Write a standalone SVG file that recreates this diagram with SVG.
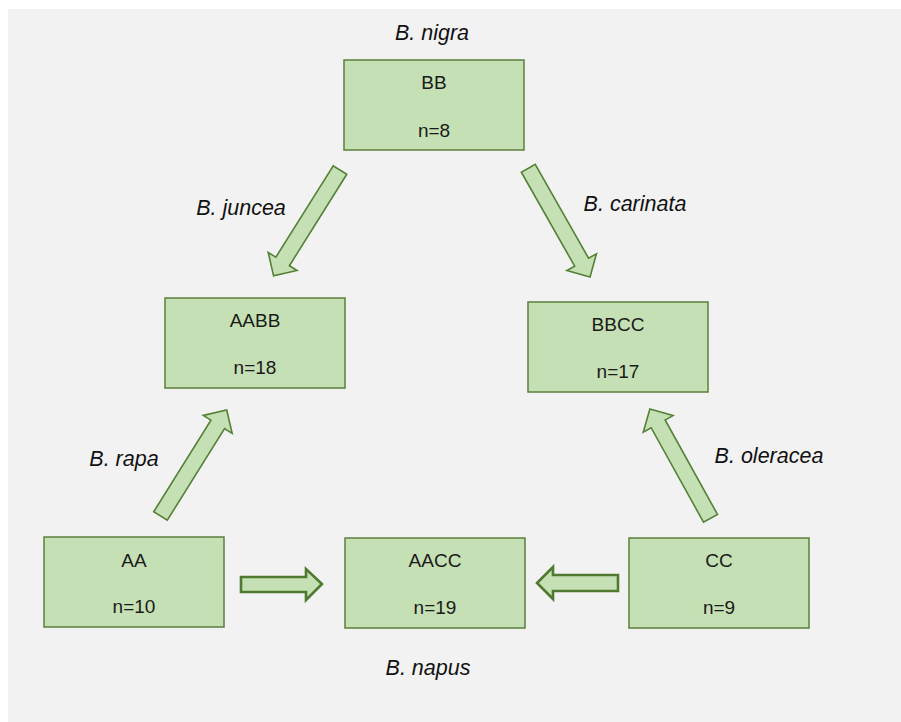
<svg xmlns="http://www.w3.org/2000/svg" width="901" height="722" viewBox="0 0 901 722">
<style>
.box{fill:#c5e0b4;stroke:#5b7f3c;stroke-width:1.5}
.t{font-family:"Liberation Sans",Arial,sans-serif;font-size:19px;fill:#1a1a1a;text-anchor:middle}
.lbl{font-family:"Liberation Sans",Arial,sans-serif;font-size:21.5px;font-style:italic;fill:#111;text-anchor:middle}
.arr{fill:#c5e0b4;stroke:#538135;stroke-width:1.6;stroke-linejoin:miter}
.arrh{fill:#c5e0b4;stroke:#4f7a30;stroke-width:2.6;stroke-linejoin:miter}
</style>
<defs>
<path id="diag" d="M0,-8 L108,-8 L108,-17 L125,0 L108,17 L108,8 L0,8 Z"/>
</defs>
<rect x="0" y="0" width="901" height="722" fill="#ffffff"/>
<rect x="8" y="9" width="893" height="713" fill="#f2f2f2"/>
<g id="connectors">
<use href="#diag" class="arr" transform="translate(340,170) rotate(122.1)"/>
<use href="#diag" class="arr" transform="translate(528.3,168.3) rotate(60.4)"/>
<use href="#diag" class="arr" transform="translate(160.5,516) rotate(-58)"/>
<use href="#diag" class="arr" transform="translate(710.5,518.3) rotate(-119)"/>
<polygon class="arrh" points="241,577 306,577 306,569 322,584 306,600 306,592 241,592"/>
<polygon class="arrh" points="618,575 553,575 553,567 537,583 553,599 553,591 618,591"/>
</g>
<g id="BB"><rect class="box" x="344" y="60" width="180" height="90"/><text class="t" x="434" y="89">BB</text><text class="t" x="434" y="137">n=8</text></g>
<g id="AABB"><rect class="box" x="165" y="298" width="180" height="90"/><text class="t" x="255" y="327">AABB</text><text class="t" x="255" y="374">n=18</text></g>
<g id="BBCC"><rect class="box" x="528" y="302" width="180" height="90"/><text class="t" x="618" y="331">BBCC</text><text class="t" x="618" y="378">n=17</text></g>
<g id="AA"><rect class="box" x="44" y="537" width="180" height="90"/><text class="t" x="134" y="567">AA</text><text class="t" x="134" y="613">n=10</text></g>
<g id="AACC"><rect class="box" x="345" y="538" width="180" height="90"/><text class="t" x="435" y="567">AACC</text><text class="t" x="435" y="614">n=19</text></g>
<g id="CC"><rect class="box" x="629" y="538" width="180" height="90"/><text class="t" x="719" y="567">CC</text><text class="t" x="719" y="614">n=9</text></g>
<g id="labels">
<text class="lbl" x="432" y="40">B. nigra</text>
<text class="lbl" x="241" y="215">B. juncea</text>
<text class="lbl" x="635" y="211">B. carinata</text>
<text class="lbl" x="124" y="466">B. rapa</text>
<text class="lbl" x="769" y="463">B. oleracea</text>
<text class="lbl" x="428" y="675">B. napus</text>
</g>
</svg>
